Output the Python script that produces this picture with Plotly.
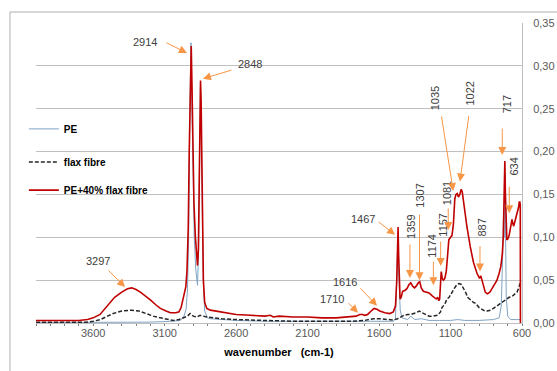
import plotly.graph_objects as go

# ---- spectra (wavenumber in cm-1, absorbance) ----
pe_wavenumber = [4000, 3600, 3200, 3050, 2990, 2965, 2950, 2940, 2932, 2924, 2916, 2910, 2903,
                 2893, 2882, 2870, 2862, 2856, 2850, 2845, 2838, 2830, 2820, 2800, 2780, 2700,
                 2650, 2600, 2400, 2000, 1700, 1500, 1485, 1476, 1472, 1468, 1463, 1458, 1452,
                 1440, 1400, 1378, 1366, 1350, 1305, 1250, 1175, 1100, 1050, 1000, 900, 800,
                 760, 745, 735, 730, 725, 720, 716, 710, 700, 680, 640, 612]
pe_absorbance = [0.0005, 0.0005, 0.001, 0.002, 0.003, 0.008, 0.016, 0.04, 0.10, 0.24, 0.327, 0.26, 0.18,
                 0.10, 0.062, 0.044, 0.09, 0.20, 0.275, 0.24, 0.15, 0.05, 0.014, 0.006, 0.005, 0.004,
                 0.004, 0.003, 0.002, 0.002, 0.002, 0.002, 0.005, 0.06, 0.09, 0.10, 0.06, 0.03, 0.015,
                 0.006, 0.004, 0.008, 0.006, 0.004, 0.005, 0.003, 0.003, 0.003, 0.004, 0.003, 0.003, 0.004,
                 0.006, 0.02, 0.08, 0.12, 0.10, 0.175, 0.12, 0.03, 0.008, 0.004, 0.004, 0.004]

flax_wavenumber = [4000, 3800, 3650, 3600, 3550, 3500, 3460, 3400, 3330, 3280, 3230, 3180, 3130,
                   3080, 3040, 3000, 2970, 2940, 2922, 2900, 2875, 2852, 2830, 2805, 2750, 2700,
                   2600, 2400, 2200, 2000, 1800, 1700, 1640, 1600, 1550, 1500, 1470, 1450, 1425,
                   1400, 1375, 1340, 1318, 1300, 1280, 1250, 1220, 1190, 1170, 1160, 1140, 1125,
                   1110, 1095, 1075, 1055, 1040, 1025, 1010, 995, 980, 962, 940, 925, 900, 880,
                   860, 845, 820, 800, 775, 750, 720, 690, 670, 650, 635, 625, 617, 612]
flax_absorbance = [0.001, 0.001, 0.001, 0.002, 0.004, 0.008, 0.011, 0.014, 0.015, 0.014, 0.011, 0.008, 0.006,
                   0.004, 0.003, 0.004, 0.006, 0.008, 0.011, 0.008, 0.007, 0.009, 0.008, 0.007, 0.006, 0.005,
                   0.004, 0.003, 0.002, 0.002, 0.002, 0.003, 0.005, 0.005, 0.004, 0.0035, 0.005, 0.007, 0.009,
                   0.010, 0.010, 0.012, 0.014, 0.012, 0.010, 0.008, 0.008, 0.009, 0.013, 0.018, 0.022, 0.028,
                   0.030, 0.035, 0.040, 0.045, 0.046, 0.045, 0.041, 0.036, 0.030, 0.027, 0.024, 0.023, 0.018, 0.016,
                   0.014, 0.014, 0.015, 0.017, 0.020, 0.023, 0.027, 0.030, 0.031, 0.034, 0.036, 0.040, 0.046, 0.047]

blend_wavenumber = [4000, 3900, 3800, 3700, 3640, 3600, 3552, 3500, 3450, 3400, 3360, 3330, 3300,
                    3270, 3230, 3200, 3160, 3130, 3090, 3060, 3020, 3000, 2985, 2974, 2962, 2952,
                    2944, 2935, 2928, 2921, 2914, 2908, 2903, 2895, 2885, 2877, 2870, 2864, 2858,
                    2853, 2849, 2845, 2840, 2834, 2829, 2820, 2805, 2780, 2740, 2700, 2650, 2600,
                    2500, 2400, 2360, 2340, 2300, 2200, 2100, 2000, 1900, 1800, 1760, 1735, 1715,
                    1700, 1680, 1655, 1635, 1615, 1595, 1560, 1525, 1500, 1485, 1476, 1471, 1467,
                    1463, 1459, 1453, 1445, 1435, 1420, 1405, 1390, 1378, 1365, 1352, 1340, 1325,
                    1315, 1305, 1290, 1270, 1250, 1230, 1215, 1200, 1190, 1182, 1176, 1170, 1165,
                    1158, 1150, 1140, 1130, 1120, 1112, 1100, 1090, 1080, 1070, 1062, 1053, 1045,
                    1035, 1025, 1018, 1010, 1000, 985, 962, 940, 915, 897, 888, 880, 870, 857, 842,
                    825, 810, 790, 775, 760, 748, 738, 731, 725, 720, 716, 712, 706, 700, 694, 688,
                    682, 676, 670, 664, 658, 652, 646, 640, 635, 629, 624, 619, 615, 612, 611]
blend_absorbance = [0.003, 0.003, 0.003, 0.003, 0.004, 0.006, 0.010, 0.020, 0.030, 0.036, 0.040, 0.041, 0.039,
                    0.036, 0.031, 0.027, 0.021, 0.017, 0.014, 0.012, 0.012, 0.013, 0.018, 0.027, 0.036, 0.042,
                    0.06, 0.11, 0.20, 0.28, 0.323, 0.27, 0.20, 0.14, 0.10, 0.08, 0.067, 0.085, 0.19,
                    0.26, 0.283, 0.26, 0.20, 0.12, 0.05, 0.024, 0.017, 0.015, 0.014, 0.013, 0.012, 0.010,
                    0.009, 0.008, 0.009, 0.007, 0.008, 0.007, 0.007, 0.006, 0.006, 0.007, 0.008, 0.010, 0.010,
                    0.009, 0.010, 0.014, 0.017, 0.016, 0.014, 0.012, 0.011, 0.013, 0.020, 0.05, 0.095, 0.112,
                    0.08, 0.04, 0.028, 0.030, 0.037, 0.038, 0.040, 0.045, 0.047, 0.043, 0.041, 0.043, 0.047,
                    0.048, 0.041, 0.037, 0.036, 0.035, 0.032, 0.030, 0.028, 0.030, 0.026, 0.028, 0.045, 0.060,
                    0.052, 0.050, 0.052, 0.060, 0.080, 0.097, 0.100, 0.102, 0.115, 0.145, 0.150, 0.151, 0.147,
                    0.150, 0.156, 0.153, 0.143, 0.130, 0.112, 0.089, 0.071, 0.058, 0.052, 0.055, 0.050, 0.042, 0.036, 0.034,
                    0.036, 0.040, 0.045, 0.050, 0.058, 0.066, 0.080, 0.10, 0.15, 0.189, 0.15, 0.11, 0.097, 0.098, 0.100, 0.104,
                    0.109, 0.116, 0.121, 0.116, 0.113, 0.117, 0.121, 0.122, 0.125, 0.130, 0.135, 0.141, 0.141, 0.138, 0.0]

# ---- band labels and where their arrows point ----
peak_labels = ["2914", "2848", "3297", "1710", "1616", "1467", "1359", "1307",
               "1174", "1157", "1081", "1035", "1022", "717", "634", "887"]
peak_tip_wavenumber = [2944, 2832, 3377, 1747, 1614, 1488, 1384, 1317,
                       1220, 1169, 1116, 1081, 1034, 738, 689, 894]
peak_tip_absorbance = [0.315, 0.285, 0.042, 0.012, 0.020, 0.103, 0.0525, 0.050,
                       0.044, 0.0665, 0.1085, 0.154, 0.165, 0.196, 0.128, 0.060]

x_ticks = [3600, 3100, 2600, 2100, 1600, 1100, 600]

# label placement (pixel offsets from the arrow tip): arrow tail, text centre, text angle
label_style = {
    "2914": ((-22, -11), (-42, -11), 0),
    "2848": ((30, -9), (47, -15), 0),
    "3297": ((-18, -18), (-27, -26), 0),
    "1710": ((-11, -11), (-26, -14), 0),
    "1616": ((-18, -19), (-32, -24), 0),
    "1467": ((-18, -14), (-32, -16), 0),
    "1359": ((0, -35), (1, -51), -90),
    "1307": ((0, -67), (1, -84), -90),
    "1174": ((0, -25), (-1, -40), -90),
    "1157": ((0, -26), (2, -41), -90),
    "1081": ((0, -23), (-1, -37), -90),
    "1035": ((-12, -76), (-18, -93), -90),
    "1022": ((9, -67), (10, -88), -90),
    "717": ((0, -28), (5, -51), -90),
    "634": ((0, -28), (5, -47), -90),
    "887": ((0, -27), (2, -44), -90),
}

ORANGE = "#F79646"
LABEL_GREY = "#404040"
AXIS_GREY = "#595959"
GRID = "#BFBFBF"
FONT = "Liberation Sans, Arial"

fig = go.Figure()
fig.add_trace(go.Scatter(x=pe_wavenumber, y=pe_absorbance, mode="lines", name="<b>PE</b>",
                         line=dict(color="#7FA3C4", width=1), legend="legend"))
fig.add_trace(go.Scatter(x=flax_wavenumber, y=flax_absorbance, mode="lines", name="<b>flax fibre</b>",
                         line=dict(color="#262626", width=1.5, dash="4px,2px"), legend="legend2"))
fig.add_trace(go.Scatter(x=blend_wavenumber, y=blend_absorbance, mode="lines",
                         name="<b>PE+40% flax fibre</b>",
                         line=dict(color="#C00000", width=1.6), legend="legend3"))

annotations = []
for lab, wx, wy in zip(peak_labels, peak_tip_wavenumber, peak_tip_absorbance):
    (tx, ty), (cx, cy), ang = label_style[lab]
    annotations.append(dict(x=wx, y=wy, xref="x", yref="y", text="", showarrow=True,
                            ax=tx, ay=ty, arrowcolor=ORANGE, arrowwidth=1, arrowhead=2,
                            arrowsize=1.6))
    annotations.append(dict(x=wx, y=wy, xref="x", yref="y", text=lab, showarrow=False,
                            xshift=cx, yshift=-cy, textangle=ang,
                            font=dict(family=FONT, size=11, color=LABEL_GREY)))

leg_font = dict(family=FONT, size=10, color="#000000")
leg_common = dict(x=-0.025, xanchor="left", yanchor="middle", bgcolor="rgba(0,0,0,0)",
                  font=leg_font, borderwidth=0)

fig.update_layout(
    width=557, height=371,
    margin=dict(l=36, r=35, t=23, b=48, autoexpand=False),
    paper_bgcolor="white", plot_bgcolor="white",
    separators=", ",
    showlegend=True,
    legend=dict(y=0.647, **leg_common),
    legend2=dict(y=0.537, **leg_common),
    legend3=dict(y=0.443, **leg_common),
    annotations=annotations,
    xaxis=dict(
        range=[4000, 600], tickmode="array", tickvals=x_ticks, automargin=False,
        showgrid=False, zeroline=False, showline=True, linecolor=GRID, linewidth=1,
        ticks="", tickfont=dict(family=FONT, size=11, color=AXIS_GREY),
        minor=dict(dtick=100, tick0=600, ticks="outside", ticklen=2, tickcolor="#808080", showgrid=False),
        title=dict(text="<b>wavenumber\u00a0\u00a0\u00a0(cm-1)</b>", standoff=10,
                   font=dict(family=FONT, size=11, color="#000000")),
    ),
    yaxis=dict(
        range=[0, 0.35], dtick=0.05, tickformat=".2f", side="right", automargin=False,
        showgrid=True, gridcolor=GRID, gridwidth=1, zeroline=False,
        showline=True, linecolor=GRID, linewidth=1, ticks="", ticklabelstandoff=8,
        tickfont=dict(family=FONT, size=11, color=AXIS_GREY),
    ),
    shapes=[dict(type="rect", xref="paper", yref="paper", x0=-0.0535, x1=1.2, y0=-0.3, y1=1.0367,
                 line=dict(color="#B0B0B0", width=1), fillcolor="rgba(0,0,0,0)", layer="below")],
)

fig.write_html("out.html")
